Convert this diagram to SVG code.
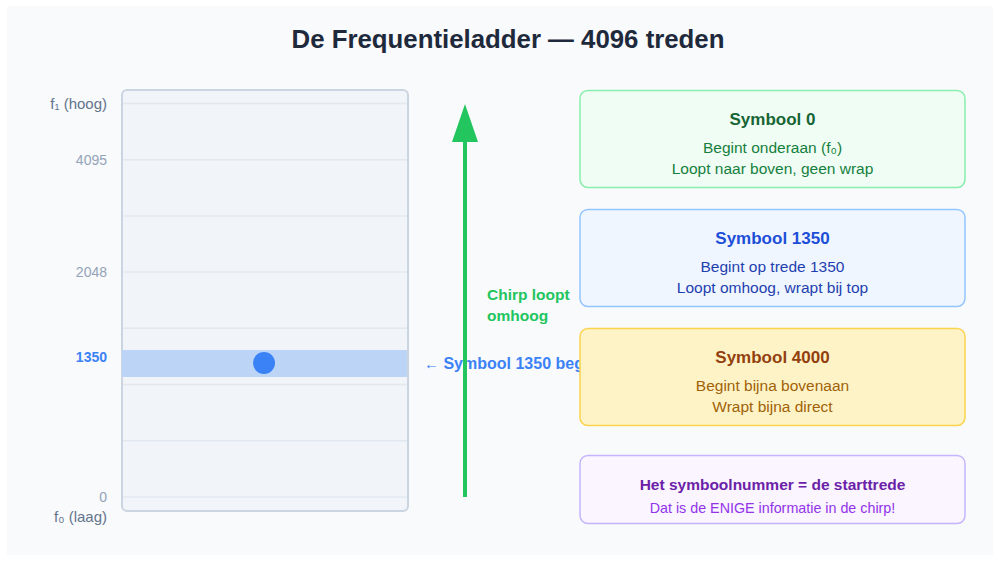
<svg xmlns="http://www.w3.org/2000/svg" width="1000" height="562" viewBox="0 0 1000 562">
  <defs>
    <style>
      .t { font-family: "Liberation Sans", Arial, sans-serif; }
      .lbl { font-size: 14px; fill: #94a3b8; text-anchor: end; }
      .flbl { font-size: 15px; fill: #64748b; text-anchor: end; }
      .rung { stroke: #e2e8f0; stroke-width: 1.5; }
      .box { stroke-width: 1.5; }
      .bt { font-size: 17px; font-weight: bold; text-anchor: middle; }
      .bl { font-size: 15.5px; text-anchor: middle; }
    </style>
  </defs>
  <rect x="0" y="0" width="1000" height="562" fill="#ffffff"/>
  <rect x="7" y="6" width="986" height="549" fill="#f8fafc"/>

  <text class="t" x="508" y="48" font-size="25.8" font-weight="bold" fill="#1e293b" text-anchor="middle">De Frequentieladder — 4096 treden</text>

  <g id="ladder">
    <rect x="122" y="90" width="286" height="421" rx="5" fill="#f1f5f9" stroke="#cbd5e1" stroke-width="2"/>
    <line class="rung" x1="123" y1="103.5" x2="407" y2="103.5"/>
    <line class="rung" x1="123" y1="159.7" x2="407" y2="159.7"/>
    <line class="rung" x1="123" y1="215.9" x2="407" y2="215.9"/>
    <line class="rung" x1="123" y1="272.1" x2="407" y2="272.1"/>
    <line class="rung" x1="123" y1="328.3" x2="407" y2="328.3"/>
    <line class="rung" x1="123" y1="384.5" x2="407" y2="384.5"/>
    <line class="rung" x1="123" y1="440.7" x2="407" y2="440.7"/>
    <line class="rung" x1="123" y1="496.9" x2="407" y2="496.9"/>
    <rect x="122" y="350" width="285" height="27" fill="#bcd4f6"/>
    <circle cx="264" cy="363" r="11" fill="#3b82f6"/>
  </g>

  <g id="axis-labels" class="t">
    <text class="flbl" x="107" y="109">f₁ (hoog)</text>
    <text class="lbl" x="107" y="165">4095</text>
    <text class="lbl" x="107" y="277">2048</text>
    <text class="lbl" x="107" y="362" font-weight="bold" style="fill:#3b82f6">1350</text>
    <text class="lbl" x="107" y="502">0</text>
    <text class="flbl" x="107" y="522">f₀ (laag)</text>
  </g>

  <g id="marker-label">
    <text class="t" x="424" y="369" font-size="16" font-weight="bold" fill="#3b82f6"><tspan font-size="15" font-weight="normal">←</tspan> Symbool 1350 begint hier</text>
  </g>

  <g id="connectors">
    <line x1="465" y1="497" x2="465" y2="138" stroke="#22c55e" stroke-width="4"/>
    <polygon points="465,104 478,142 452,142" fill="#22c55e"/>
  </g>

  <g id="chirp-label" class="t" font-size="15.5" font-weight="bold" fill="#22c55e">
    <text x="487" y="300">Chirp loopt</text>
    <text x="487" y="321">omhoog</text>
  </g>

  <g id="sym0" class="t">
    <rect class="box" x="580" y="90.5" width="385" height="97" rx="8" fill="#f0fdf4" stroke="#86efac"/>
    <text class="bt" x="772.5" y="125" fill="#166534">Symbool 0</text>
    <text class="bl" x="772.5" y="153" fill="#15803d">Begint onderaan (f₀)</text>
    <text class="bl" x="772.5" y="174" fill="#15803d">Loopt naar boven, geen wrap</text>
  </g>

  <g id="sym1350" class="t">
    <rect class="box" x="580" y="209.5" width="385" height="97" rx="8" fill="#eff6ff" stroke="#93c5fd"/>
    <text class="bt" x="772.5" y="244" fill="#1d4ed8">Symbool 1350</text>
    <text class="bl" x="772.5" y="272" fill="#1e40af">Begint op trede 1350</text>
    <text class="bl" x="772.5" y="293" fill="#1e40af">Loopt omhoog, wrapt bij top</text>
  </g>

  <g id="sym4000" class="t">
    <rect class="box" x="580" y="328.5" width="385" height="97" rx="8" fill="#fef3c7" stroke="#fcd34d"/>
    <text class="bt" x="772.5" y="363" fill="#92400e">Symbool 4000</text>
    <text class="bl" x="772.5" y="391" fill="#a16207">Begint bijna bovenaan</text>
    <text class="bl" x="772.5" y="412" fill="#a16207">Wrapt bijna direct</text>
  </g>

  <g id="summary" class="t">
    <rect class="box" x="580" y="455.5" width="385" height="68" rx="8" fill="#faf5ff" stroke="#c4b5fd"/>
    <text x="772.5" y="490" font-size="15.5" font-weight="bold" text-anchor="middle" fill="#6b21a8">Het symboolnummer = de starttrede</text>
    <text x="772.5" y="513" font-size="14.3" text-anchor="middle" fill="#9333ea">Dat is de ENIGE informatie in de chirp!</text>
  </g>
</svg>
